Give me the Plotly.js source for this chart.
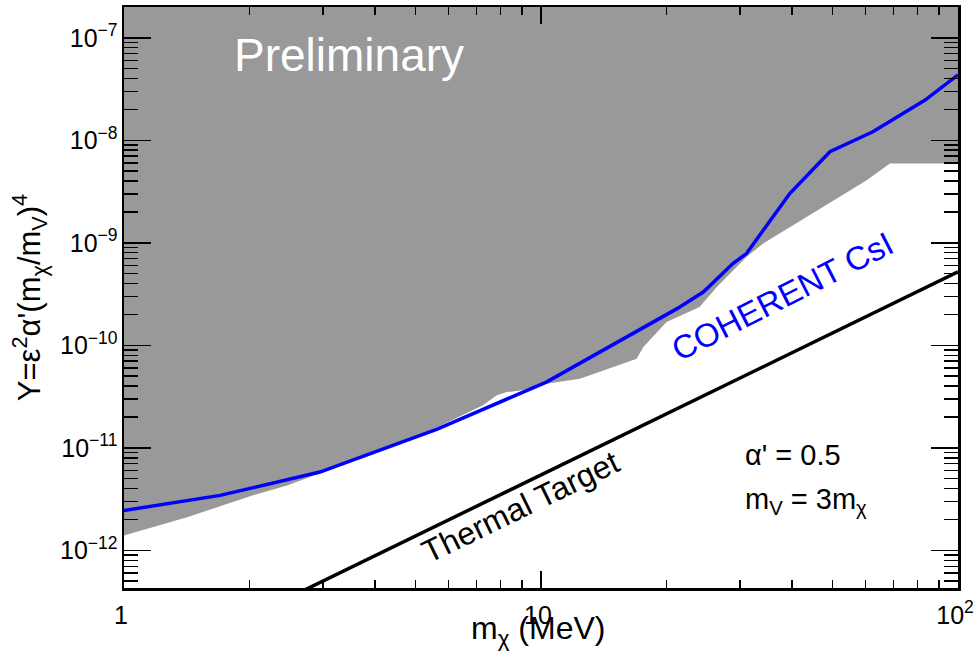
<!DOCTYPE html>
<html>
<head>
<meta charset="utf-8">
<script src="https://cdn.plot.ly/plotly-3.0.1.min.js"></script>
<style>
  html, body { margin: 0; padding: 0; background: #ffffff; }
  #plot { width: 975px; height: 662px; }
</style>
</head>
<body>
<div id="plot"></div>
<script>
// Excluded region (lower edge, traced from low to high dark-matter mass)
const excludedMass = [1, 1.174, 1.416, 1.70, 2.04, 2.46, 2.95, 5.13, 7.26, 7.83, 8.28, 9.05, 10.3, 12.4, 14.9, 16.96, 17.6, 20.0, 24.0, 26.4, 31.1, 34.1, 60.4, 68.7, 100];
const excludedY = [1.40e-12, 1.68e-12, 2.10e-12, 2.69e-12, 3.44e-12, 4.30e-12, 5.64e-12, 1.32e-11, 2.60e-11, 3.25e-11, 3.50e-11, 3.64e-11, 4.23e-11, 4.73e-11, 6.14e-11, 7.41e-11, 9.62e-11, 1.69e-10, 2.36e-10, 3.71e-10, 7.28e-10, 9.87e-10, 4.07e-9, 5.93e-9, 5.93e-9];
const excludedCeiling = 1e-6;

// COHERENT CsI limit
const csiMass = [1, 1.70, 2.95, 5.62, 10.3, 21.2, 24.5, 28.9, 31.1, 39.5, 49.3, 62.5, 83.4, 100];
const csiY = [2.45e-12, 3.44e-12, 5.81e-12, 1.515e-11, 4.38e-11, 2.28e-10, 3.31e-10, 6.31e-10, 7.85e-10, 3.02e-9, 7.74e-9, 1.21e-8, 2.47e-8, 4.34e-8];

// Thermal relic target
const thermalMass = [2.5, 100];
const thermalY = [3.5e-13, 5.2e-10];

const FONT = 'Liberation Sans, Arial, Helvetica, sans-serif';

// close the excluded band along the top of the frame
const bandX = excludedMass.concat([excludedMass[excludedMass.length - 1], excludedMass[0]]);
const bandY = excludedY.concat([excludedCeiling, excludedCeiling]);

const traces = [
  {
    x: bandX, y: bandY, type: 'scatter', mode: 'lines',
    fill: 'toself', fillcolor: '#999999',
    line: { width: 0, color: '#999999' },
    hoverinfo: 'skip', showlegend: false
  },
  {
    x: thermalMass, y: thermalY, type: 'scatter', mode: 'lines',
    line: { color: '#000000', width: 3.5 },
    hoverinfo: 'skip', showlegend: false
  },
  {
    x: csiMass, y: csiY, type: 'scatter', mode: 'lines',
    line: { color: '#0000ff', width: 3.5 },
    hoverinfo: 'skip', showlegend: false
  }
];

const axisCommon = {
  type: 'log',
  dtick: 1,
  exponentformat: 'power',
  showgrid: false,
  zeroline: false,
  showline: true,
  linecolor: '#000000',
  linewidth: 2.5,
  mirror: 'allticks',
  ticks: 'inside',
  tickcolor: '#000000',
  tickwidth: 1.5,
  ticklabeloverflow: 'allow',
  tickfont: { family: FONT, size: 20, color: '#000000' }
};

// fixed-position text: centred on the given point
function label(x, y, text, size, color, angle, xanchor) {
  return {
    xref: 'paper', yref: 'paper', x: x, y: y,
    xanchor: xanchor || 'center', yanchor: 'middle',
    text: text, showarrow: false, textangle: angle || 0,
    font: { family: FONT, size: size, color: color }
  };
}

const layout = {
  width: 975,
  height: 662,
  margin: { l: 124, r: 17, t: 7, b: 74 },
  paper_bgcolor: '#ffffff',
  plot_bgcolor: '#ffffff',
  font: { family: FONT, color: '#000000' },
  showlegend: false,
  xaxis: Object.assign({}, axisCommon, {
    range: [0, 2],
    ticklen: 17,
    ticklabelstandoff: 4,
    ticklabelshift: -3,
    minor: { dtick: 'D1', ticks: 'inside', ticklen: 8, tickcolor: '#000000', tickwidth: 1.5 }
  }),
  yaxis: Object.assign({}, axisCommon, {
    range: [-12.367, -6.70],
    ticklen: 27,
    minor: { dtick: 'D1', ticks: 'inside', ticklen: 14, tickcolor: '#000000', tickwidth: 1.5 },
    title: { text: "Y=ε<sup>2</sup>α'(m<sub>χ</sub>/m<sub>V</sub>)<sup>4</sup>", font: { family: FONT, size: 31, color: '#000000' }, standoff: 10 }
  }),
  annotations: [
    // x-axis title, set close under the tick labels
    label(0.497, -0.074, 'm<sub>χ</sub> (MeV)', 32, '#000000'),
    label(0.27, 0.917, 'Preliminary', 46, '#ffffff'),
    label(0.789, 0.501, 'COHERENT CsI', 33, '#0000ff', -27),
    label(0.475, 0.14, 'Thermal Target', 32, '#000000', -26),
    label(0.742, 0.229, "α' = 0.5", 29, '#000000', 0, 'left'),
    label(0.742, 0.150, 'm<sub>V</sub> = 3m<sub>χ</sub>', 29, '#000000', 0, 'left')
  ]
};

Plotly.newPlot('plot', traces, layout, { staticPlot: true, displayModeBar: false });
</script>
</body>
</html>
